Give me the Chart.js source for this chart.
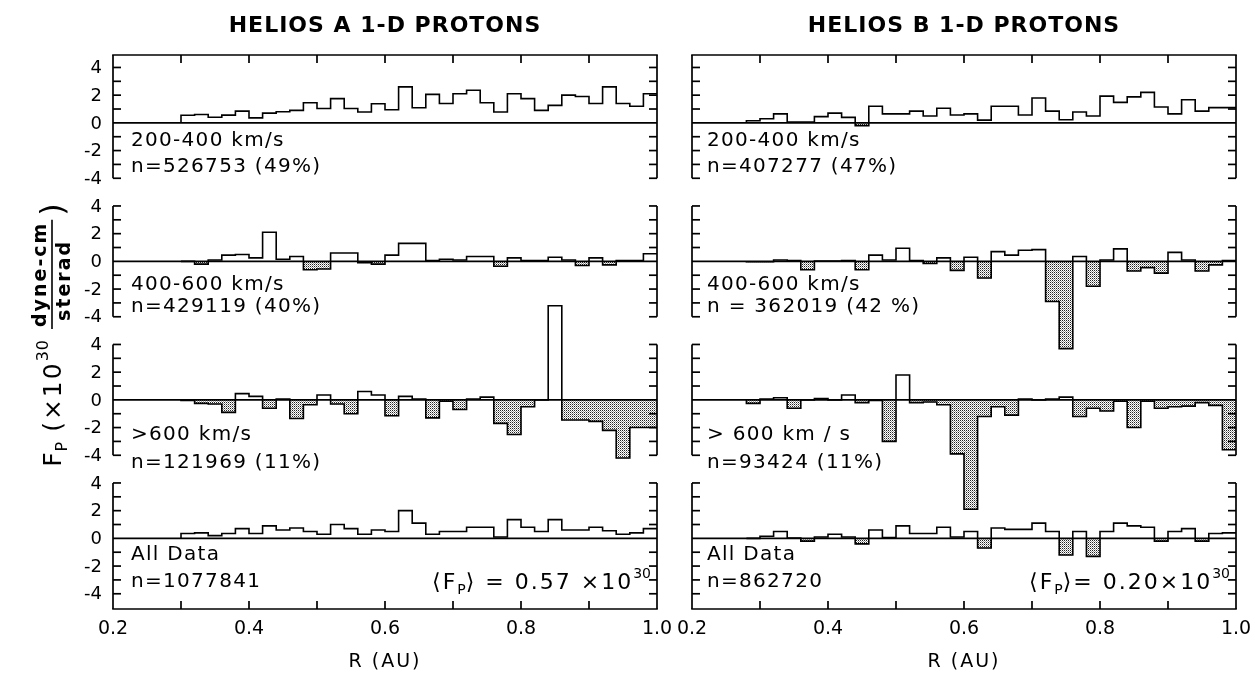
<!DOCTYPE html>
<html>
<head>
<meta charset="UTF-8">
<script src="https://cdn.jsdelivr.net/npm/chart.js@4.4.0/dist/chart.umd.min.js"></script>
<title>Helios 1-D protons</title>
<style>
html,body{margin:0;padding:0;background:#fff}
#wrap{position:relative;width:1255px;height:677px;overflow:hidden}
canvas{position:absolute;top:0}
#cA{left:0}
#cB{left:672px}
</style>
</head>
<body>
<div id="wrap">
	<canvas id="cA" width="672" height="677"></canvas>
	<canvas id="cB" width="583" height="677"></canvas>
</div>
<script>
// radial bins (AU), 0.02 AU wide
var rStartA = 0.30;
var rStartB = 0.28;
var binWidth = 0.02;
var rMinorTicks = [0.3, 0.4, 0.5, 0.6, 0.7, 0.8, 0.9];
var rLabelTicks = [0.2, 0.4, 0.6, 0.8, 1.0];
var fMinorTicks = [-4, -3, -2, -1, 1, 2, 3, 4];
var fLabelTicks = [4, 2, 0, -2, -4];

// Helios A, F_P in 1e30 dyne-cm/sterad, bins from 0.30 AU
var heliosA_200_400 = [0.55,0.6,0.41,0.56,0.85,0.36,0.7,0.8,0.9,1.45,1.04,1.75,1.04,0.78,1.38,0.95,2.6,1.09,2.06,1.4,2.1,2.35,1.45,0.78,2.1,1.75,0.9,1.26,2.0,1.9,1.4,2.6,1.4,1.2,2.1];
var heliosA_400_600 = [0,-0.2,0.1,0.45,0.5,0.25,2.1,0.15,0.35,-0.6,-0.55,0.6,0.6,-0.1,-0.2,0.45,1.3,1.3,0.05,0.15,0.1,0.35,0.35,-0.35,0.25,0.05,0.05,0.3,0.1,-0.3,0.25,-0.25,0.05,0.05,0.55];
var heliosA_600 = [-0.05,-0.25,-0.3,-0.9,0.45,0.25,-0.6,0.05,-1.35,-0.35,0.35,-0.3,-1.0,0.6,0.35,-1.15,0.25,0.05,-1.3,-0.1,-0.7,0.05,0.2,-1.7,-2.5,-0.5,0,6.8,-1.45,-1.45,-1.55,-2.2,-4.2,-2.0,-2.0];
var heliosA_all = [0.35,0.4,0.2,0.35,0.7,0.35,0.9,0.6,0.75,0.5,0.3,1.0,0.7,0.3,0.6,0.5,2.0,1.1,0.3,0.5,0.5,0.8,0.8,0.1,1.35,0.8,0.5,1.35,0.6,0.6,0.8,0.55,0.3,0.4,0.7];

// Helios B, bins from 0.28 AU
var heliosB_200_400 = [0.15,0.3,0.65,0.05,0.05,0.45,0.7,0.4,-0.2,1.2,0.65,0.65,0.85,0.5,1.05,0.57,0.65,0.2,1.2,1.2,0.57,1.8,0.85,0.23,0.78,0.5,1.93,1.48,1.88,2.2,1.15,0.65,1.67,0.85,1.1,1.1];
var heliosB_400_600 = [-0.03,-0.03,0.1,0.05,-0.6,0.02,0.02,0.05,-0.6,0.45,0.1,0.95,0.05,-0.15,0.25,-0.65,0.3,-1.2,0.7,0.45,0.8,0.85,-2.9,-6.3,0.35,-1.8,0.1,0.9,-0.7,-0.45,-0.85,0.65,0.1,-0.7,-0.25,0.05];
var heliosB_600 = [-0.25,0.05,0.15,-0.6,0,0.1,0,0.35,-0.2,-0.05,-3.0,1.8,-0.2,-0.15,-0.35,-3.9,-7.9,-1.2,-0.5,-1.1,0.05,0,0.05,0.2,-1.2,-0.6,-0.8,-0.1,-2.0,-0.1,-0.6,-0.5,-0.45,-0.2,-0.4,-3.6];
var heliosB_all = [0,0.15,0.5,0.02,-0.2,0.1,0.3,0.1,-0.4,0.6,0.05,0.9,0.35,0.35,0.8,0.1,0.5,-0.7,0.75,0.65,0.65,1.1,0.5,-1.2,0.5,-1.3,0.5,1.1,0.9,0.8,-0.2,0.5,0.7,-0.2,0.35,0.4];

var labelsA = [["200-400 km/s", "n=526753 (49%)"], ["400-600 km/s", "n=429119 (40%)"], [">600 km/s", "n=121969 (11%)"], ["All Data", "n=1077841"]];
var labelsB = [["200-400 km/s", "n=407277 (47%)"], ["400-600 km/s", "n = 362019 (42 %)"], ["> 600 km / s", "n=93424 (11%)"], ["All Data", "n=862720"]];

var FONT = '"DejaVu Sans", sans-serif';

// stipple for the negative bins
function stipple(ctx){
	var c = document.createElement('canvas');
	c.width = 2; c.height = 2;
	var g = c.getContext('2d');
	g.fillStyle = '#fff'; g.fillRect(0,0,2,2);
	g.fillStyle = '#222'; g.fillRect(0,0,1,1);
	g.fillStyle = '#999'; g.fillRect(1,1,1,1);
	return ctx.createPattern(c, 'repeat');
}

function stepPoints(start, vals){
	var pts = [{x:start, y:0}];
	for (var i=0;i<vals.length;i++) pts.push({x:+(start+binWidth*(i+1)).toFixed(3), y:vals[i]});
	return pts;
}
function negBars(start, vals){
	return vals.map(function(v,i){ return {x:+(start+binWidth*(i+0.5)).toFixed(3), y: v<0 ? v : null}; });
}

function runs(ctx, parts, x, y, align){
	var w = 0;
	parts.forEach(function(p){ ctx.font = p.f; ctx.letterSpacing = (p.ls||0)+'px'; p.w = ctx.measureText(p.t).width; w += p.w; });
	if (align=='right') x -= w;
	if (align=='center') x -= w/2;
	ctx.textAlign = 'left'; ctx.textBaseline = 'alphabetic';
	parts.forEach(function(p){ ctx.font = p.f; ctx.letterSpacing = (p.ls||0)+'px'; ctx.fillText(p.t, x, y+(p.dy||0)); x += p.w; });
	ctx.letterSpacing = '0px';
	return w;
}

function line(ctx,x1,y1,x2,y2){ ctx.beginPath(); ctx.moveTo(x1,y1); ctx.lineTo(x2,y2); ctx.stroke(); }

function framePlugin(col){
	return {
		id: 'frame'+col.id,
		afterDatasetsDraw: function(chart){
			var ctx = chart.ctx, a = chart.chartArea, xs = chart.scales.x;
			ctx.save();
			ctx.strokeStyle = '#000'; ctx.fillStyle = '#000'; ctx.lineWidth = 1.7;
			var tl = 8;
			line(ctx, a.left-0.8, a.top, a.right+0.8, a.top);
			line(ctx, a.left-0.8, a.bottom, a.right+0.8, a.bottom);
			rMinorTicks.forEach(function(r){
				var px = xs.getPixelForValue(r);
				line(ctx, px, a.top, px, a.top+tl);
				line(ctx, px, a.bottom, px, a.bottom-tl);
			});
			for (var k=0;k<4;k++){
				var ys = chart.scales['y'+k];
				var top = k==0 ? a.top : ys.getPixelForValue(4);
				var bot = k==3 ? a.bottom : ys.getPixelForValue(-4);
				line(ctx, a.left, top, a.left, bot);
				line(ctx, a.right, top, a.right, bot);
				fMinorTicks.forEach(function(v){
					var py = ys.getPixelForValue(v);
					line(ctx, a.left, py, a.left+tl, py);
					line(ctx, a.right, py, a.right-tl, py);
				});
				var y0 = ys.getPixelForValue(0);
				line(ctx, a.left, y0, a.right, y0);
				if (col.yLabels){
					ctx.font = '18px '+FONT; ctx.textAlign = 'right'; ctx.textBaseline = 'middle';
					fLabelTicks.forEach(function(v){
						ctx.fillText(v < 0 ? '-'+Math.abs(v) : String(v), a.left-11, ys.getPixelForValue(v)+1);
					});
				}
				// panel texts
				var off = [[18,44],[23,45],[35,63],[16,43]][k];
				ctx.font = '20px '+FONT; ctx.textAlign = 'left'; ctx.textBaseline = 'middle';
				ctx.letterSpacing = '1.3px';
				ctx.fillText(col.labels[k][0], a.left+col.textX, y0+off[0]);
				ctx.fillText(col.labels[k][1], a.left+col.textX, y0+off[1]);
				ctx.letterSpacing = '0px';
				if (k==3){
					runs(ctx, [
						{t:'\u27e8F', f:'22px '+FONT, ls:2},
						{t:'P', f:'14px '+FONT, dy:5},
						{t:'\u27e9'+col.mean, f:'22px '+FONT, ls:2},
						{t:'30', f:'14px '+FONT, dy:-11}
					], a.right-6, y0+off[1]+8, 'right');
				}
			}
			// r axis
			ctx.font = '19px '+FONT; ctx.textAlign = 'center'; ctx.textBaseline = 'middle';
			rLabelTicks.forEach(function(r){ ctx.fillText(r.toFixed(1), xs.getPixelForValue(r), a.bottom+20); });
			ctx.letterSpacing = '2px';
			ctx.fillText('R (AU)', (a.left+a.right)/2, a.bottom+53);
			ctx.font = 'bold 22px '+FONT; ctx.letterSpacing = '1px';
			ctx.fillText(col.title, (a.left+a.right)/2, 26);
			ctx.letterSpacing = '0px';
			if (col.yLabels){
				ctx.save();
				ctx.translate(52, 335);
				ctx.rotate(-Math.PI/2);
				var big = '25px '+FONT, sm = '16px '+FONT, fr = 'bold 19px '+FONT;
				ctx.font = fr; ctx.letterSpacing = '2px';
				var fw = Math.max(ctx.measureText('dyne-cm').width, ctx.measureText('sterad').width) + 4;
				ctx.letterSpacing = '0px';
				var parts = [{t:'F', f:big, ls:1},{t:'P', f:sm, dy:6},{t:' (\u00d710', f:big, ls:2},{t:'30', f:sm, dy:-13, ls:1}];
				var w = 0;
				parts.forEach(function(p){ ctx.font = p.f; ctx.letterSpacing = (p.ls||0)+'px'; w += ctx.measureText(p.t).width; });
				ctx.letterSpacing = '0px';
				ctx.font = '32px '+FONT; var cw = ctx.measureText(')').width;
				var total = w + 10 + fw + 4 + cw;
				var x = -total/2;
				runs(ctx, parts, x, 9, 'left');
				x += w + 10;
				ctx.font = fr; ctx.textAlign = 'left'; ctx.textBaseline = 'alphabetic';
				ctx.letterSpacing = '2px';
				ctx.fillText('dyne-cm', x+2, -6);
				ctx.fillText('sterad', x+8, 18);
				ctx.letterSpacing = '0px';
				ctx.lineWidth = 1.6;
				line(ctx, x, 0, x+fw, 0);
				x += fw + 4;
				ctx.font = '32px '+FONT;
				ctx.fillText(')', x, 11);
				ctx.restore();
			}
			ctx.restore();
		}
	};
}

function makeChart(col){
	var ctx = document.getElementById(col.canvas).getContext('2d');
	var pat = stipple(ctx);
	var datasets = [], scales = {x:{type:'linear', min:0.2, max:1.0, offset:false, display:false}};
	col.rows.forEach(function(vals, k){
		datasets.push({type:'line', yAxisID:'y'+k, data:stepPoints(col.start, vals), stepped:'after',
			borderColor:'#000', borderWidth:1.6, pointRadius:0, fill:false, order:0});
		datasets.push({type:'bar', yAxisID:'y'+k, data:negBars(col.start, vals), backgroundColor:pat,
			borderWidth:0, barPercentage:1, categoryPercentage:1, grouped:false, order:1});
		var max = 4.9 + 10*k;
		scales['y'+k] = {type:'linear', display:false, min:max-40, max:max};
	});
	return new Chart(ctx, {
		type:'bar',
		data:{datasets:datasets},
		options:{
			responsive:false, animation:false, events:[],
			layout:{padding:col.pad},
			plugins:{legend:{display:false}, tooltip:{enabled:false}},
			scales:scales
		},
		plugins:[framePlugin(col)]
	});
}

makeChart({id:'A', canvas:'cA', start:rStartA, rows:[heliosA_200_400, heliosA_400_600, heliosA_600, heliosA_all],
	labels:labelsA, title:'HELIOS A 1-D PROTONS', mean:' = 0.57 \u00d710', yLabels:true, textX:18,
	pad:{left:113, right:15, top:55, bottom:68}});
makeChart({id:'B', canvas:'cB', start:rStartB, rows:[heliosB_200_400, heliosB_400_600, heliosB_600, heliosB_all],
	labels:labelsB, title:'HELIOS B 1-D PROTONS', mean:'= 0.20\u00d710', yLabels:false, textX:15,
	pad:{left:20, right:19, top:55, bottom:68}});
</script>
</body>
</html>
